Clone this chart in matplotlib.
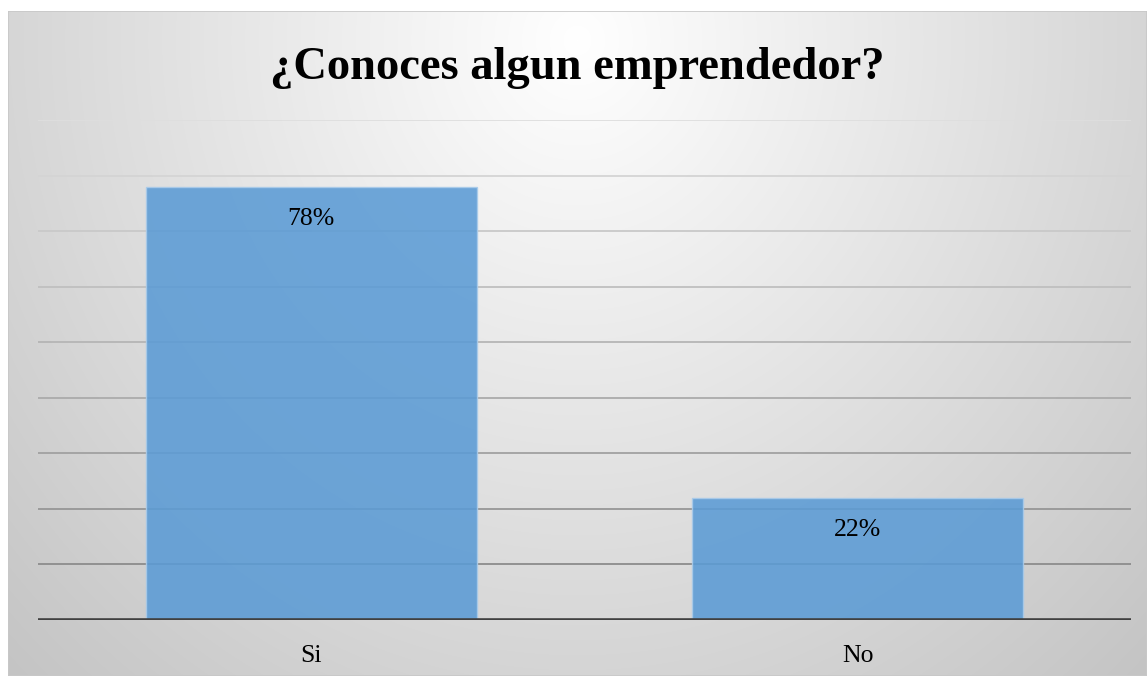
import numpy as np
import matplotlib
matplotlib.use("Agg")
import matplotlib.pyplot as plt
from matplotlib.patches import Rectangle

categories = ["Si", "No"]
values = [78, 22]
labels = ["78%", "22%"]
title = "¿Conoces algun emprendedor?"

W, H = 1147, 676
fig = plt.figure(figsize=(W / 100, H / 100), dpi=100)
fig.patch.set_facecolor("white")

# background gradient panel
bg = fig.add_axes([8 / W, 0, (W - 8) / W, (H - 11) / H])
bg.set_axis_off()
yy, xx = np.mgrid[0:H - 11, 0:W - 8]
px = xx + 8
py = yy + 11
d = np.sqrt(((px - 577) / 600.0) ** 2 + ((py - 40) / 650.0) ** 2)
g = np.clip(1.0 - 0.17 * d, 0.0, 1.0)
img = np.dstack([g, g, g])
bg.imshow(img, aspect="auto", extent=[0, 1, 0, 1], origin="upper")
bg.set_xlim(0, 1)
bg.set_ylim(0, 1)
bg.add_patch(Rectangle((0, 0), 1, 1, transform=bg.transAxes, fill=False,
                       edgecolor="#c8c8c8", linewidth=1.2))

ax = fig.add_axes([38 / W, (H - 620) / H, 1093 / W, 500 / H])
ax.patch.set_alpha(0)
ax.set_xlim(-0.5, len(categories) - 0.5)
ax.set_ylim(0, 90)

grid_levels = np.arange(10, 91, 10)
shades = np.linspace(0.55, 0.87, len(grid_levels))
for lvl, s in zip(grid_levels, shades):
    ax.axhline(lvl, color=(s, s, s), linewidth=1.3, zorder=1)

x = np.arange(len(categories))
bars = ax.bar(x, values, width=0.606, color="#5b9bd5", alpha=0.88,
              edgecolor="#a9cbea", linewidth=1.0, zorder=2)

for b, lab in zip(bars, labels):
    ax.annotate(lab, (b.get_x() + b.get_width() / 2, b.get_height()),
                xytext=(0, -23), textcoords="offset points",
                ha="center", va="center", fontsize=18.5,
                family="Liberation Serif", color="black", zorder=3)

ax.axhline(0, color="#404040", linewidth=2.6, zorder=4)

ax.set_xticks(x)
ax.set_xticklabels(categories, fontsize=18.5, family="Liberation Serif")
ax.tick_params(axis="x", length=0, pad=18)
ax.set_yticks([])
for sp in ax.spines.values():
    sp.set_visible(False)

fig.text(577 / W, 1 - 68 / H, title, ha="center", va="center",
         fontsize=33.5, fontweight="bold", family="Liberation Serif")

fig.savefig("out.png", dpi=100)
